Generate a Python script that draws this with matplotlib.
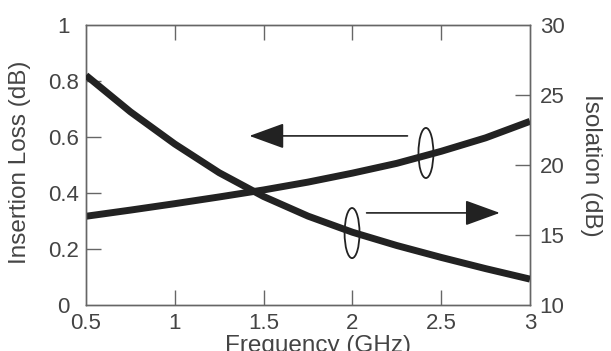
import matplotlib
matplotlib.use("Agg")
import matplotlib.pyplot as plt
from matplotlib.patches import Ellipse

plt.rcParams["font.family"] = ["Liberation Sans", "DejaVu Sans"]

freq = [0.5, 0.75, 1.0, 1.25, 1.5, 1.75, 2.0, 2.25, 2.5, 2.75, 3.0]
insertion_loss = [0.317, 0.339, 0.362, 0.386, 0.411, 0.439, 0.471, 0.506, 0.549, 0.597, 0.656]
isolation = [26.4, 23.8, 21.5, 19.45, 17.75, 16.35, 15.2, 14.25, 13.4, 12.6, 11.85]

x_ticks = [0.5, 1, 1.5, 2, 2.5, 3]
x_labels = ["0.5", "1", "1.5", "2", "2.5", "3"]
il_ticks = [0, 0.2, 0.4, 0.6, 0.8, 1]
il_labels = ["0", "0.2", "0.4", "0.6", "0.8", "1"]
iso_ticks = [10, 15, 20, 25, 30]
iso_labels = ["10", "15", "20", "25", "30"]

TXT = "#444444"
SPINE = "#666666"
CURVE = "#222222"
FS = 16
LFS = 17.5

fig = plt.figure(figsize=(6.11, 3.51), dpi=100)
ax = fig.add_axes([0.1408, 0.131, 0.7266, 0.7977])
ax2 = ax.twinx()

ax.plot(freq, insertion_loss, color=CURVE, lw=5, solid_capstyle="butt", zorder=3)
ax2.plot(freq, isolation, color=CURVE, lw=5, solid_capstyle="butt", zorder=3)

ax.set_xlim(0.5, 3)
ax.set_ylim(0, 1)
ax2.set_ylim(10, 30)

for a in (ax, ax2):
    for s in a.spines.values():
        s.set_color(SPINE)
        s.set_linewidth(1.0)

ax.set_xticks(x_ticks)
ax.set_xticklabels(x_labels)
ax.set_yticks(il_ticks)
ax.set_yticklabels(il_labels, ha="center")
ax2.set_yticks(iso_ticks)
ax2.set_yticklabels(iso_labels)

ax.tick_params(axis="x", direction="in", length=11, width=1, color=SPINE,
               top=True, labelsize=FS, labelcolor=TXT, pad=6)
ax.tick_params(axis="y", direction="in", length=11, width=1, color=SPINE,
               labelsize=FS, labelcolor=TXT, pad=16)
ax2.tick_params(axis="y", direction="in", length=11, width=1, color=SPINE,
                labelsize=FS, labelcolor=TXT, pad=7)

# hide end ticks that sit on the frame
for t in ax.yaxis.get_major_ticks()[::5]:
    t.tick1line.set_visible(False)
for t in ax2.yaxis.get_major_ticks()[::4]:
    t.tick2line.set_visible(False)
for t in ax.xaxis.get_major_ticks()[::5]:
    t.tick1line.set_visible(False)
    t.tick2line.set_visible(False)

fig.text(0.033, 0.537, "Insertion Loss (dB)", fontsize=LFS, color=TXT,
         rotation=90, ha="center", va="center")
fig.text(0.967, 0.528, "Isolation (dB)", fontsize=LFS, color=TXT,
         rotation=270, ha="center", va="center")
fig.text(0.52, 0.045, "Frequency (GHz)", fontsize=LFS, color=TXT, ha="center", va="top")

# arrows pointing to the axis each curve belongs to
arrow_kw = dict(arrowstyle="-|>,head_length=2.2,head_width=0.8", color=CURVE,
                lw=1.2, mutation_scale=10, shrinkA=0, shrinkB=0)
ax.annotate("", xy=(1.42, 0.604), xytext=(2.31, 0.604), arrowprops=arrow_kw, zorder=4)
ax.annotate("", xy=(2.83, 0.329), xytext=(2.08, 0.329), arrowprops=arrow_kw, zorder=4)

ax.add_patch(Ellipse((2.414, 0.543), 0.084, 0.179, fill=False, ec=CURVE, lw=1.3, zorder=5))
ax.add_patch(Ellipse((1.998, 0.257), 0.084, 0.179, fill=False, ec=CURVE, lw=1.3, zorder=5))

fig.savefig("out.png", dpi=100)
